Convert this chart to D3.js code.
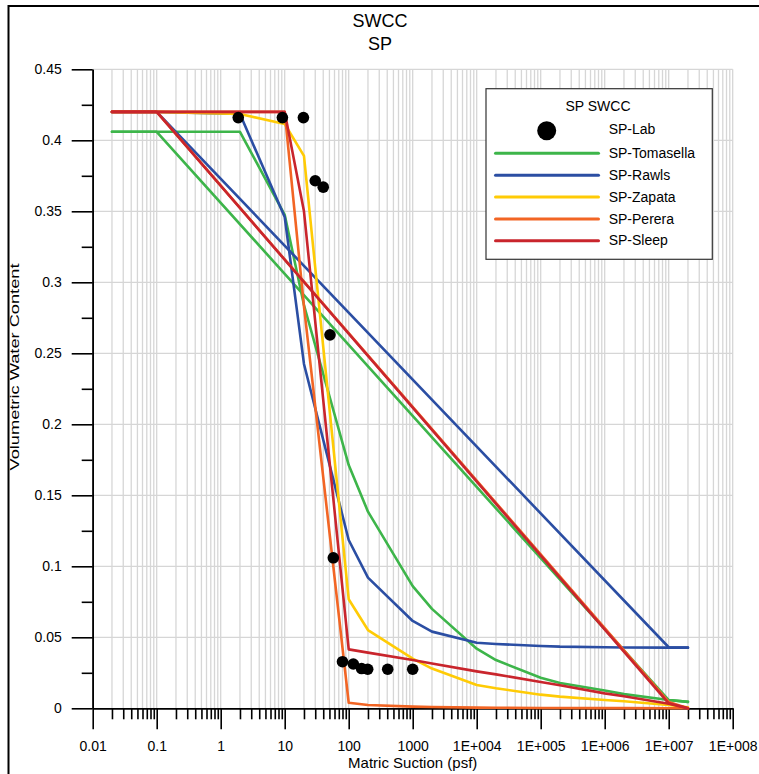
<!DOCTYPE html>
<html>
<head>
<meta charset="utf-8">
<script src="https://cdn.jsdelivr.net/npm/d3@7"></script>
<style>
  html, body { margin: 0; padding: 0; background: #fff; }
  svg { display: block; }
  text { font-family: "Liberation Sans", Arial, sans-serif; fill: #000; }
</style>
</head>
<body>
<svg id="chart" width="759" height="774"></svg>
<script>
// ---------- data ----------
const titleLines = ["SWCC", "SP"];
const xLabel = "Matric Suction (psf)";
const yLabel = "Volumetric Water Content";
const legendTitle = "SP SWCC";

const xMajorTicks = [0.01, 0.1, 1, 10, 100, 1000, 1e4, 1e5, 1e6, 1e7, 1e8];
const xMajorLabels = ["0.01", "0.1", "1", "10", "100", "1000", "1E+004", "1E+005", "1E+006", "1E+007", "1E+008"];
const yMajorTicks = [0, 0.05, 0.1, 0.15, 0.2, 0.25, 0.3, 0.35, 0.4, 0.45];
const yMajorLabels = ["0", "0.05", "0.1", "0.15", "0.2", "0.25", "0.3", "0.35", "0.4", "0.45"];
const yMinorTicks = [0.025, 0.075, 0.125, 0.175, 0.225, 0.275, 0.325, 0.375, 0.425];

// lab points
const labSuction = [1.88, 9.2, 19.6, 30, 40, 51, 57.5, 80, 118, 159, 198, 407, 1000];
const labTheta   = [0.416, 0.416, 0.416, 0.3715, 0.367, 0.263, 0.106, 0.0328, 0.0312, 0.028, 0.0275, 0.0275, 0.0275];

// detailed curves share this suction grid
const curveSuction = [0.02, 0.1, 2, 10, 20, 100, 200, 1000, 2000, 1e4, 2e4, 1e5, 2e5, 1e6, 2e6, 1e7, 2e7];
const tomasellaTheta = [0.406, 0.406, 0.406, 0.3475, 0.284, 0.1713, 0.1385, 0.086, 0.070, 0.042, 0.034, 0.0215, 0.0178, 0.0125, 0.0100, 0.0058, 0.0045];
const rawlsTheta     = [0.42, 0.42, 0.4185, 0.346, 0.2425, 0.1185, 0.092, 0.0615, 0.054, 0.0462, 0.0453, 0.0439, 0.0434, 0.0430, 0.0428, 0.0427, 0.0427];
const zapataTheta    = [0.42, 0.42, 0.4185, 0.4115, 0.389, 0.0768, 0.0551, 0.035, 0.028, 0.0164, 0.0141, 0.0096, 0.0082, 0.0059, 0.005, 0.0023, 0.0007];
const pereraTheta    = [0.42, 0.42, 0.42, 0.42, 0.283, 0.0039, 0.0023, 0.0012, 0.0009, 0.0005, 0.0004, 0.0002, 0.0002, 0.0001, 0.0001, 0, 0];
const sleepTheta     = [0.42, 0.42, 0.42, 0.42, 0.35, 0.0415, 0.0392, 0.034, 0.0315, 0.026, 0.0239, 0.0185, 0.0162, 0.0105, 0.0085, 0.0032, 0];

// straight (coarse) curves
const lineSuction = [0.02, 0.1, 1e7, 2e7];
const tomasellaLine = [0.406, 0.406, 0.0058, 0.0045];
const rawlsLine     = [0.42, 0.42, 0.0430, 0.0427];
const pereraLine    = [0.42, 0.42, 0.0045, 0];
const sleepLine     = [0.42, 0.42, 0.0035, 0];

const seriesNames  = ["SP-Tomasella", "SP-Rawls", "SP-Zapata", "SP-Perera", "SP-Sleep"];
const seriesColors = ["#3DB54A", "#2B4EA3", "#FFCB05", "#F26524", "#C9252C"];
const seriesCurves = [tomasellaTheta, rawlsTheta, zapataTheta, pereraTheta, sleepTheta];
const seriesLines  = [tomasellaLine, rawlsLine, null, pereraLine, sleepLine];

// ---------- layout ----------
const svg = d3.select("#chart");
const plot = { left: 92.7, right: 732.7, top: 69.3, bottom: 708.3 };

const x = d3.scaleLog().domain([0.01, 1e8]).range([plot.left, plot.right]);
const y = d3.scaleLinear().domain([0, 0.45]).range([plot.bottom, plot.top]);

// frame
svg.append("rect").attr("x", 8.5).attr("y", 6).attr("width", 800).attr("height", 800)
  .attr("fill", "none").attr("stroke", "#000").attr("stroke-width", 2);

// grid
const xGrid = [];
for (let k = -2; k <= 7; k++) for (let m = 1; m <= 9; m++) xGrid.push(m * Math.pow(10, k));
xGrid.push(1e8);
const xMinor = xGrid.filter(v => !xMajorTicks.some(t => Math.abs(t - v) / t < 1e-9));

const grid = svg.append("g").attr("stroke", "#d6d6d6").attr("stroke-width", 1.3);
grid.selectAll("line.v").data(xGrid.slice(1)).join("line")
  .attr("x1", d => x(d)).attr("x2", d => x(d))
  .attr("y1", plot.top).attr("y2", plot.bottom);
grid.selectAll("line.h").data(yMajorTicks.slice(1)).join("line")
  .attr("x1", plot.left).attr("x2", plot.right)
  .attr("y1", d => y(d)).attr("y2", d => y(d));

// axes
const axisStyle = g => {
  g.selectAll("path.domain").attr("stroke", "#000").attr("stroke-width", 1.6);
  g.selectAll(".tick line").attr("stroke", "#000").attr("stroke-width", 1.6);
  g.selectAll(".tick text").style("font-family", "'Liberation Sans', Arial, sans-serif")
    .style("font-size", "14px").attr("fill", "#000");
};

svg.append("g").attr("transform", `translate(0,${plot.bottom})`)
  .call(d3.axisBottom(x).tickValues(xMinor).tickSize(11).tickSizeOuter(0).tickFormat(""))
  .call(axisStyle);
svg.append("g").attr("transform", `translate(0,${plot.bottom})`)
  .call(d3.axisBottom(x).tickValues(xMajorTicks).tickSize(21).tickSizeOuter(0).tickPadding(12)
    .tickFormat((d, i) => xMajorLabels[i]))
  .call(axisStyle);

svg.append("g").attr("transform", `translate(${plot.left},0)`)
  .call(d3.axisLeft(y).tickValues(yMinorTicks).tickSize(11).tickSizeOuter(0).tickFormat(""))
  .call(axisStyle);
svg.append("g").attr("transform", `translate(${plot.left},0)`)
  .call(d3.axisLeft(y).tickValues(yMajorTicks).tickSize(21).tickSizeOuter(0).tickPadding(10)
    .tickFormat((d, i) => yMajorLabels[i]))
  .call(axisStyle);

// titles
svg.append("text").attr("x", 380).attr("y", 27).attr("text-anchor", "middle")
  .style("font-size", "18px").text(titleLines[0]);
svg.append("text").attr("x", 380).attr("y", 50).attr("text-anchor", "middle")
  .style("font-size", "18px").text(titleLines[1]);

svg.append("text").attr("x", (plot.left + plot.right) / 2).attr("y", 768).attr("text-anchor", "middle")
  .style("font-size", "15px").text(xLabel);
svg.append("text").attr("transform", "translate(19,367) rotate(-90)").attr("text-anchor", "middle")
  .attr("textLength", 207).attr("lengthAdjust", "spacingAndGlyphs")
  .style("font-size", "13px").text(yLabel);

// curves
const line = d3.line().x(d => x(d[0])).y(d => y(d[1]));
const curvesG = svg.append("g").attr("fill", "none").attr("stroke-width", 2.6)
  .attr("stroke-linejoin", "round").attr("stroke-linecap", "round");

seriesNames.forEach((name, i) => {
  const g = curvesG.append("g").attr("stroke", seriesColors[i]);
  if (seriesLines[i]) {
    g.append("path").attr("d", line(lineSuction.map((s, j) => [s, seriesLines[i][j]])));
  }
  g.append("path").attr("d", line(curveSuction.map((s, j) => [s, seriesCurves[i][j]])));
});

// lab points on top
svg.append("g")
  .selectAll("circle").data(labSuction.map((s, j) => [s, labTheta[j]])).join("circle")
  .attr("cx", d => x(d[0])).attr("cy", d => y(d[1])).attr("r", 5.8).attr("fill", "#000");

// legend
const lg = svg.append("g");
lg.append("rect").attr("x", 486).attr("y", 88.7).attr("width", 226.3).attr("height", 170.6)
  .attr("fill", "#fff").attr("stroke", "#333").attr("stroke-width", 1.2);
lg.append("text").attr("x", 598).attr("y", 110.5).attr("text-anchor", "middle")
  .style("font-size", "14px").text(legendTitle);
const rowY = [130.7, 153.2, 175.2, 197, 219, 240.7];
lg.append("circle").attr("cx", 546.7).attr("cy", rowY[0]).attr("r", 9.5).attr("fill", "#000");
lg.append("text").attr("x", 608.7).attr("y", rowY[0] + 3.5).style("font-size", "14px").text("SP-Lab");
seriesNames.forEach((name, i) => {
  lg.append("line").attr("x1", 495.5).attr("x2", 598.5)
    .attr("y1", rowY[i + 1]).attr("y2", rowY[i + 1])
    .attr("stroke", seriesColors[i]).attr("stroke-width", 3).attr("stroke-linecap", "round");
  lg.append("text").attr("x", 608.7).attr("y", rowY[i + 1] + 4.5).style("font-size", "14px").text(name);
});
</script>
</body>
</html>
